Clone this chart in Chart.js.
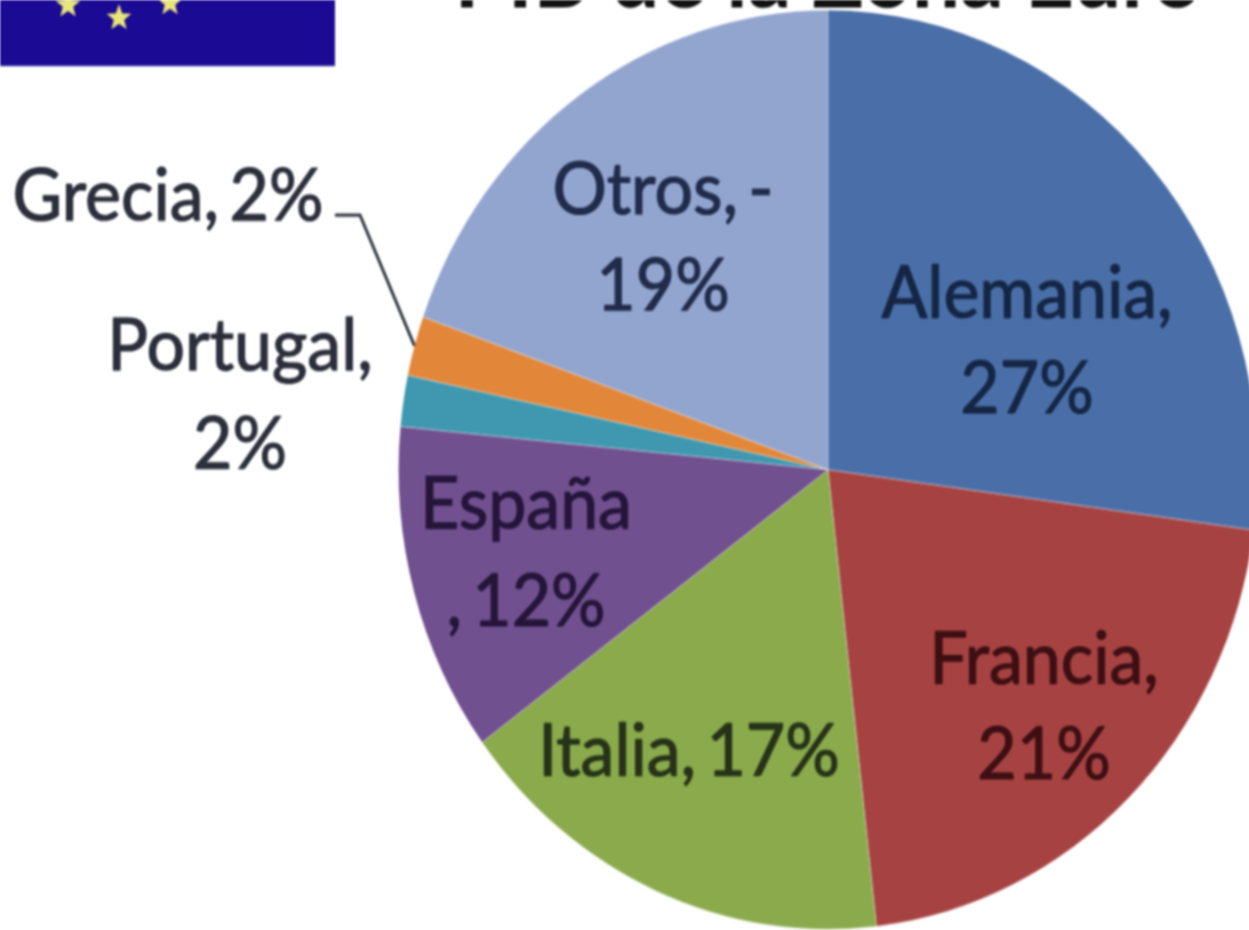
<!DOCTYPE html>
<html lang="es">
<head>
<meta charset="utf-8">
<title>PIB de la Zona Euro</title>
<script src="https://cdn.jsdelivr.net/npm/chart.js@4"></script>
<style>
  html, body { margin: 0; padding: 0; background: #fff; overflow: hidden; width: 1249px; height: 930px; }
  #stage { position: absolute; left: 0; top: 0; width: 1300px; height: 880px;
           transform-origin: 0 0; transform: scaleY(1.07); filter: blur(1.1px); }
</style>
</head>
<body>
<div id="stage"><canvas id="c" width="1300" height="880"></canvas></div>
<script>
const chartTitle = "PIB de la Zona Euro";
const categories = ["Alemania", "Francia", "Italia", "España", "Portugal", "Grecia", "Otros"];
const shares = [27.1, 21.1, 16.7, 11.6, 1.8, 2.1, 19.6];
const printedLabels = [
  ["Alemania,", "27%"], ["Francia,", "21%"], ["Italia, 17%"], ["España", ", 12%"],
  ["Portugal,", "2%"], ["Grecia, 2%"], ["Otros, -", "19%"]
];
const sliceColors = ["#4a6fa8", "#a64342", "#8aaa4c", "#71508f", "#3f98b0", "#e2873a", "#92a5cf"];

/* Presentation only: label placement in page pixels */
const labelColors = ["#152645", "#3d0f13", "#263319", "#241539", "#2c2f3b", "#2c2f3b", "#212c4b"];
const labelCenters = [
  [1027, [294, 390]], [1044, [660, 756]], [689, [752]], [526, [505, 602]],
  [240, [347, 445]], [168, [197]], [663, [190, 287]]
];
const YS = 1.07, LABEL_FONT = "68px Lato", TITLE_FONT = "bold 86px Lato";
const leaderSlice = 5, leaderStart = [335, 215], leaderKnee = [360, 215];
const flagStars = [[68, 5], [119, 18], [170, 3]];

function star(ctx, x, y, r) {
  ctx.beginPath();
  for (let i = 0; i < 10; i++) {
    const a = -Math.PI / 2 + i * Math.PI / 5, q = i % 2 ? r * 0.42 : r;
    ctx.lineTo(x + q * Math.cos(a), y + q * Math.sin(a));
  }
  ctx.closePath();
  ctx.fill();
}

const decorations = {
  id: "decorations",
  afterDatasetsDraw(chart) {
    const ctx = chart.ctx;
    ctx.save();
    // flag
    ctx.fillStyle = "#1b0a94";
    ctx.fillRect(0, 0, 335, 66 / YS);
    ctx.fillStyle = "#e8e67a";
    flagStars.forEach(s => star(ctx, s[0], s[1] / YS, 13));
    // title, cut by the top of the picture
    ctx.fillStyle = "#111";
    ctx.font = TITLE_FONT;
    ctx.textAlign = "center";
    ctx.textBaseline = "alphabetic";
    ctx.fillText(chartTitle, 828, 7 / YS);
    // leader line
    const arc = chart.getDatasetMeta(0).data[leaderSlice];
    const mid = (arc.startAngle + arc.endAngle) / 2;
    ctx.strokeStyle = "#33363f";
    ctx.lineWidth = 3;
    ctx.beginPath();
    ctx.moveTo(leaderStart[0], leaderStart[1] / YS);
    ctx.lineTo(leaderKnee[0], leaderKnee[1] / YS);
    ctx.lineTo(arc.x + arc.outerRadius * Math.cos(mid), arc.y + arc.outerRadius * Math.sin(mid));
    ctx.stroke();
    // labels
    ctx.font = LABEL_FONT;
    ctx.wordSpacing = "-7px";
    ctx.textBaseline = "middle";
    ctx.lineWidth = 1.2;
    ctx.lineJoin = "round";
    printedLabels.forEach((lines, i) => {
      ctx.fillStyle = labelColors[i];
      ctx.strokeStyle = labelColors[i];
      lines.forEach((t, j) => {
        const y = labelCenters[i][1][j] / YS;
        ctx.fillText(t, labelCenters[i][0], y);
        ctx.strokeText(t, labelCenters[i][0], y);
      });
    });
    ctx.restore();
  }
};

new Chart(document.getElementById("c"), {
  type: "pie",
  data: {
    labels: categories,
    datasets: [{ data: shares, backgroundColor: sliceColors, borderWidth: 1, borderColor: "rgba(255,255,255,0.3)" }]
  },
  plugins: [decorations],
  options: {
    responsive: false,
    animation: false,
    layout: { padding: { left: 398, right: 42, top: 9, bottom: 11 } },
    plugins: { legend: { display: false }, tooltip: { enabled: false }, title: { display: false } }
  }
});
</script>
</body>
</html>
